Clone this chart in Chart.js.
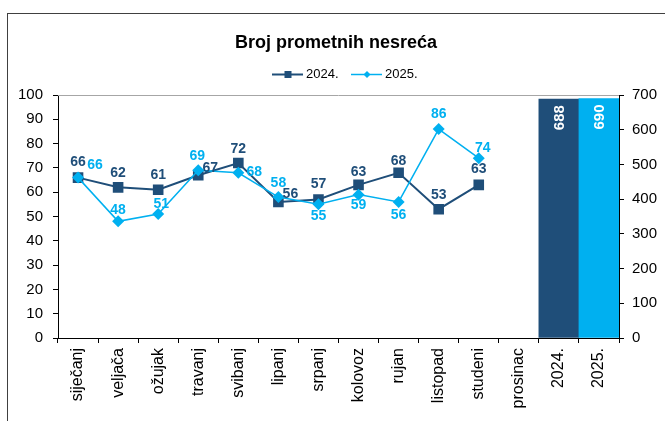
<!DOCTYPE html>
<html>
<head>
<meta charset="utf-8">
<script src="https://cdn.jsdelivr.net/npm/chart.js@4"></script>
<style>
  html, body { margin: 0; padding: 0; background: #fff; }
</style>
</head>
<body>
<canvas id="chart" width="665" height="421"></canvas>
<script>
// data
var months = ['siječanj', 'veljača', 'ožujak', 'travanj', 'svibanj', 'lipanj',
              'srpanj', 'kolovoz', 'rujan', 'listopad', 'studeni', 'prosinac'];
var yearLabels = ['2024.', '2025.'];
var accidents2024 = [66, 62, 61, 67, 72, 56, 57, 63, 68, 53, 63];
var accidents2025 = [66, 48, 51, 69, 68, 58, 55, 59, 56, 86, 74];
var yearTotals = [688, 690];

var navy = '#1F4E79';
var cyan = '#00B0F0';
var FONT = '"Liberation Sans", Arial, sans-serif';

// label offsets (dx, dy) from each point, like the excel chart
var offs2024 = [[0,-15],[0,-14],[0,-15],[12,-7],[0,-14],[12,-8],[0,-15],[0,-13],[0,-12],[0,-14],[0,-16]];
var offs2025 = [[17,-12],[0,-11],[3,-10],[-1,-14],[16,-1],[0,-14],[0,12],[0,11],[0,13],[0,-15],[4,-10]];

var labels = months.concat(yearLabels);

function pad(arr, n) {
    var out = arr.slice();
    while (out.length < n) out.push(null);
    return out;
}
var line2024 = pad(accidents2024, labels.length);
var line2025 = pad(accidents2025, labels.length);
var bars = pad([], months.length).concat(yearTotals);

Chart.defaults.font.family = FONT;
Chart.defaults.color = '#000';

// frame, title and legend drawn by hand
var framePlugin = {
    id: 'frame',
    beforeDraw: function (chart) {
        var ctx = chart.ctx;
        ctx.save();
        ctx.fillStyle = '#fff';
        ctx.fillRect(0, 0, chart.width, chart.height);
        ctx.strokeStyle = '#404040';
        ctx.lineWidth = 1;
        ctx.strokeRect(7.5, 13.5, 700, 500);

        // title
        ctx.fillStyle = '#000';
        ctx.font = 'bold 18px ' + FONT;
        ctx.textAlign = 'center';
        ctx.textBaseline = 'middle';
        ctx.fillText('Broj prometnih nesreća', 336, 43);

        // legend
        ctx.font = '13px ' + FONT;
        ctx.textAlign = 'left';
        var ly = 74.5;
        ctx.strokeStyle = navy;
        ctx.lineWidth = 2;
        ctx.beginPath(); ctx.moveTo(272, ly); ctx.lineTo(303, ly); ctx.stroke();
        ctx.fillStyle = navy;
        ctx.fillRect(284.5, ly - 3.5, 7, 7);
        ctx.fillStyle = '#000';
        ctx.fillText('2024.', 306, ly);

        ctx.strokeStyle = cyan;
        ctx.lineWidth = 1.5;
        ctx.beginPath(); ctx.moveTo(351, ly); ctx.lineTo(382, ly); ctx.stroke();
        ctx.fillStyle = cyan;
        ctx.beginPath();
        ctx.moveTo(367, ly - 3.5); ctx.lineTo(370.5, ly); ctx.lineTo(367, ly + 3.5); ctx.lineTo(363.5, ly);
        ctx.closePath(); ctx.fill();
        ctx.fillStyle = '#000';
        ctx.fillText('2025.', 385, ly);
        ctx.restore();
    },
    afterDraw: function (chart) {
        var a = chart.chartArea, ctx = chart.ctx;
        ctx.save();
        ctx.strokeStyle = '#A6A6A6';
        ctx.lineWidth = 1;
        ctx.beginPath();
        ctx.moveTo(a.left, Math.round(a.top) + 0.5);
        ctx.lineTo(a.right, Math.round(a.top) + 0.5);
        ctx.stroke();
        ctx.restore();
    }
};

var valueLabels = {
    id: 'valueLabels',
    afterDatasetsDraw: function (chart) {
        var ctx = chart.ctx;
        ctx.save();
        ctx.font = 'bold 14px ' + FONT;
        ctx.textAlign = 'center';
        ctx.textBaseline = 'middle';
        [[0, navy, offs2024], [1, cyan, offs2025]].forEach(function (cfg) {
            var meta = chart.getDatasetMeta(cfg[0]);
            var data = chart.data.datasets[cfg[0]].data;
            ctx.fillStyle = cfg[1];
            meta.data.forEach(function (pt, i) {
                if (data[i] == null) return;
                var o = cfg[2][i];
                ctx.fillText(String(data[i]), pt.x + o[0], pt.y + o[1]);
            });
        });
        // totals inside the bars, reading bottom to top
        var bm = chart.getDatasetMeta(2);
        var bd = chart.data.datasets[2].data;
        ctx.fillStyle = '#fff';
        ctx.font = 'bold 15px ' + FONT;
        ctx.textAlign = 'right';
        bm.data.forEach(function (bar, i) {
            if (bd[i] == null) return;
            ctx.save();
            ctx.translate(bar.x + 1, bar.y + 6);
            ctx.rotate(-Math.PI / 2);
            ctx.fillText(String(bd[i]), 0, 0);
            ctx.restore();
        });
        ctx.restore();
    }
};

var ctx = document.getElementById('chart').getContext('2d');
new Chart(ctx, {
    data: {
        labels: labels,
        datasets: [{
            type: 'line',
            label: '2024.',
            data: line2024,
            yAxisID: 'y',
            borderColor: navy,
            backgroundColor: navy,
            borderWidth: 2,
            pointStyle: 'rect',
            pointRadius: 7.5,
            pointBorderWidth: 0,
            pointHoverRadius: 7.5,
            tension: 0,
            order: 1
        }, {
            type: 'line',
            label: '2025.',
            data: line2025,
            yAxisID: 'y',
            borderColor: cyan,
            backgroundColor: cyan,
            borderWidth: 1.5,
            pointStyle: 'rectRot',
            pointRadius: 6,
            pointBorderWidth: 0,
            pointHoverRadius: 6,
            tension: 0,
            order: 0
        }, {
            type: 'bar',
            label: 'ukupno',
            data: bars,
            yAxisID: 'y1',
            backgroundColor: [].concat(pad([], 12), [navy, cyan]),
            borderWidth: 0,
            barPercentage: 1,
            categoryPercentage: 1,
            order: 2
        }]
    },
    options: {
        responsive: false,
        animation: false,
        layout: { padding: { top: 95, left: 0, right: 0, bottom: 0 } },
        plugins: {
            legend: { display: false },
            title: { display: false },
            tooltip: { enabled: false }
        },
        scales: {
            x: {
                offset: true,
                grid: { offset: true, drawOnChartArea: false, drawTicks: true, tickLength: 5, color: '#000' },
                border: { color: '#000', width: 1 },
                ticks: { autoSkip: false, minRotation: 90, maxRotation: 90, padding: 5,
                         font: { size: 16 }, color: '#000' },
                afterFit: function (s) { s.height = 83; }
            },
            y: {
                position: 'left',
                min: 0, max: 100,
                grid: { drawOnChartArea: false, tickLength: 5, color: '#000' },
                border: { color: '#000', width: 1 },
                ticks: { stepSize: 10, padding: 10, font: { size: 15 }, color: '#000' },
                afterFit: function (s) { s.width = 58; }
            },
            y1: {
                position: 'right',
                min: 0, max: 700,
                grid: { drawOnChartArea: false, tickLength: 5, color: '#000' },
                border: { color: '#000', width: 1 },
                ticks: { stepSize: 100, padding: 8, font: { size: 15 }, color: '#000' },
                afterFit: function (s) { s.width = 46; }
            }
        }
    },
    plugins: [framePlugin, valueLabels]
});
</script>
</body>
</html>
